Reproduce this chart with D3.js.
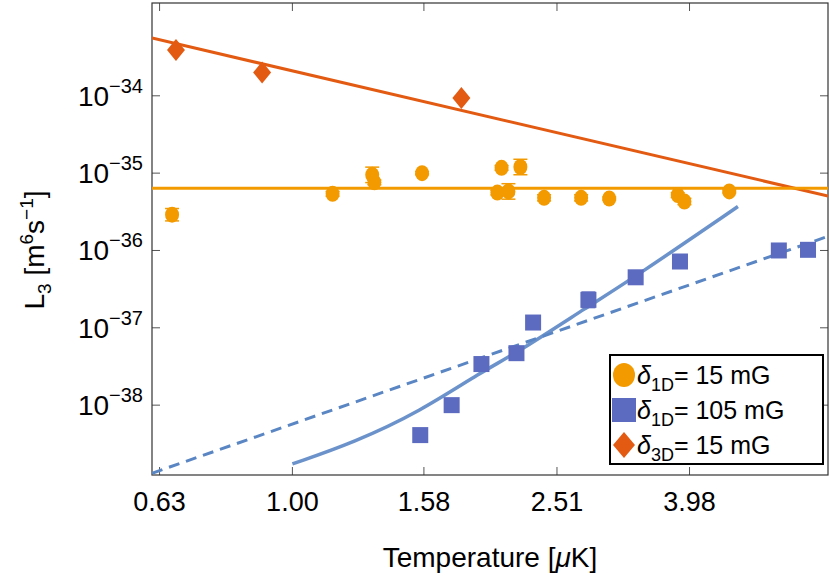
<!DOCTYPE html><html><head><meta charset="utf-8">
<script src="https://cdn.jsdelivr.net/npm/d3@7"></script>
<style>body{margin:0;background:#fff}text{font-family:"Liberation Sans",Arial,sans-serif}</style></head><body>
<svg id="c" width="830" height="580"></svg>
<script>
const xTicks=[0.63,1.00,1.58,2.51,3.98];
const xTickLabels=["0.63","1.00","1.58","2.51","3.98"];
const yTickExps=[-34,-35,-36,-37,-38];
// series 1: delta_1D = 15 mG (T, L3, relative log error)
const circT=[0.658,1.15,1.32,1.33,1.57,2.07,2.04,2.12,2.21,2.40,2.73,3.01,3.82,3.91,4.57];
const circL=[2.9e-36,5.4e-36,9.5e-36,7.6e-36,1.0e-35,1.17e-35,5.6e-36,5.8e-36,1.2e-35,4.8e-36,4.8e-36,4.7e-36,5.2e-36,4.3e-36,5.8e-36];
const circE=[0.08,0.03,0.1,0.03,0.02,0.03,0.03,0.1,0.1,0.04,0.04,0.02,0.03,0.04,0.02];
const circFit=6.4e-36;
// series 2: delta_1D = 105 mG
const sqT=[1.56,1.74,1.93,2.18,2.31,2.80,3.30,3.85,5.43,6.01];
const sqL=[4.1e-39,1.0e-38,3.4e-38,4.7e-38,1.17e-37,2.3e-37,4.5e-37,7.2e-37,1.0e-36,1.02e-36];
const sqE=[0,0,0,0,0,0.1,0,0,0,0];
const sqCurveT=[1.00,1.24,1.56,1.93,2.18,2.80,3.30,4.71];
const sqCurveL=[1.74e-39,3.3e-39,8.3e-39,2.7e-38,4.7e-38,1.9e-37,4.6e-37,3.7e-36];
const sqDashA=5.7e-39, sqDashN=3;
// series 3: delta_3D = 15 mG
const diaT=[0.667,0.90,1.80];
const diaL=[3.9e-34,2.0e-34,9.4e-35];
const diaA=2.1e-34, diaN=-2;
const legendLabels=[["δ","1D","= 15 mG"],["δ","1D","= 105 mG"],["δ","3D","= 15 mG"]];

const cOr="#f29a00",cBl="#5c6bc0",cRd="#e35b12",cLn="#5b86c4";
const svg=d3.select("#c");
const L=152,R=828,T=3,B=475;
const x=d3.scaleLog().domain([Math.pow(10,-0.2-8/662),Math.pow(10,-0.2+668/662)]).range([L,R]);
const y=d3.scaleLog().domain([Math.pow(10,-38-70/77.5),Math.pow(10,-34+93/77.5)]).range([B,T]);
const g=svg.append("g");
g.append("defs").append("clipPath").attr("id","cp").append("rect").attr("x",L).attr("y",T).attr("width",R-L).attr("height",B-T);
const tk=8;
xTicks.forEach((t,i)=>{const px=x(t);
 g.append("line").attr("x1",px).attr("x2",px).attr("y1",B).attr("y2",B-tk).attr("stroke","#555");
 g.append("line").attr("x1",px).attr("x2",px).attr("y1",T).attr("y2",T+tk).attr("stroke","#555");
 g.append("text").attr("x",px).attr("y",B+36).attr("text-anchor","middle").attr("font-size",27).text(xTickLabels[i]);});
yTickExps.forEach(e=>{const py=y(Math.pow(10,e));
 g.append("line").attr("x1",L).attr("x2",L+tk).attr("y1",py).attr("y2",py).attr("stroke","#555");
 g.append("line").attr("x1",R).attr("x2",R-tk).attr("y1",py).attr("y2",py).attr("stroke","#555");
 const t=g.append("text").attr("x",143).attr("y",py+10).attr("text-anchor","end").attr("font-size",28);
 t.append("tspan").text("10");t.append("tspan").attr("dy",-13).attr("font-size",20).text("−"+(-e));});
g.append("rect").attr("x",L).attr("y",T).attr("width",R-L).attr("height",B-T).attr("fill","none").attr("stroke","#333").attr("stroke-width",1.2);
const xt=g.append("text").attr("x",490).attr("y",567).attr("text-anchor","middle").attr("font-size",28);
xt.append("tspan").text("Temperature [");xt.append("tspan").attr("font-style","italic").text("μ");xt.append("tspan").text("K]");
const yt=g.append("text").attr("transform","translate(44,250) rotate(-90)").attr("text-anchor","middle").attr("font-size",28);
yt.append("tspan").text("L");yt.append("tspan").attr("dy",7).attr("font-size",19).text("3");
yt.append("tspan").attr("dy",-7).text(" [m");yt.append("tspan").attr("dy",-11).attr("font-size",19).text("6");
yt.append("tspan").attr("dy",11).text("s");yt.append("tspan").attr("dy",-11).attr("font-size",19).text("−1");
yt.append("tspan").attr("dy",11).text("]");
const p=g.append("g").attr("clip-path","url(#cp)");
const dom=x.domain();
const pw=(a,n)=>[dom[0],dom[1]].map(t=>[x(t),y(a*Math.pow(t,n))]);
p.append("path").attr("d",d3.line()(pw(diaA,diaN))).attr("stroke",cRd).attr("stroke-width",3).attr("fill","none");
p.append("path").attr("d",d3.line()(pw(circFit,0))).attr("stroke",cOr).attr("stroke-width",3).attr("fill","none");
p.append("path").attr("d",d3.line()(pw(sqDashA,sqDashN))).attr("stroke",cLn).attr("stroke-width",3).attr("stroke-dasharray","11,7").attr("fill","none");
p.append("path").attr("d",d3.line().curve(d3.curveBasis)(sqCurveT.map((t,i)=>[x(t),y(sqCurveL[i])]))).attr("stroke",cLn).attr("stroke-width",3.5).attr("stroke-opacity",0.9).attr("fill","none");
function eb(T_,L_,E,col){T_.forEach((t,i)=>{if(!E[i])return;const px=x(t),y1=y(L_[i]*Math.pow(10,E[i])),y2=y(L_[i]/Math.pow(10,E[i]));
 p.append("line").attr("x1",px).attr("x2",px).attr("y1",y1).attr("y2",y2).attr("stroke",col).attr("stroke-width",1.5);
 [y1,y2].forEach(yy=>p.append("line").attr("x1",px-7).attr("x2",px+7).attr("y1",yy).attr("y2",yy).attr("stroke",col).attr("stroke-width",1.5));});}
eb(circT,circL,circE,cOr);eb(sqT,sqL,sqE,cBl);
circT.forEach((t,i)=>p.append("ellipse").attr("cx",x(t)).attr("cy",y(circL[i])).attr("rx",7).attr("ry",8).attr("fill",cOr));
sqT.forEach((t,i)=>p.append("rect").attr("x",x(t)-8).attr("y",y(sqL[i])-8).attr("width",16).attr("height",16).attr("fill",cBl));
diaT.forEach((t,i)=>p.append("path").attr("transform",`translate(${x(t)},${y(diaL[i])})`).attr("d","M0,-11L9,0L0,11L-9,0Z").attr("fill",cRd));
const lg=g.append("g");
lg.append("rect").attr("x",610).attr("y",355).attr("width",213).attr("height",109).attr("fill","#fff").attr("stroke","#000").attr("stroke-width",2);
const cols=[cOr,cBl,cRd];
legendLabels.forEach((l,i)=>{const yy=375+i*35;
 if(i==0)lg.append("ellipse").attr("cx",624).attr("cy",yy).attr("rx",11).attr("ry",12).attr("fill",cols[i]);
 if(i==1)lg.append("rect").attr("x",612).attr("y",yy-12).attr("width",24).attr("height",24).attr("fill",cols[i]);
 if(i==2)lg.append("path").attr("transform",`translate(624,${yy})`).attr("d","M0,-13L11,0L0,13L-11,0Z").attr("fill",cols[i]);
 const t=lg.append("text").attr("x",637).attr("y",yy+9).attr("font-size",25);
 t.append("tspan").attr("font-style","italic").text(l[0]);t.append("tspan").attr("dy",7).attr("font-size",18).text(l[1]);
 t.append("tspan").attr("dy",-7).text(l[2]);});
</script></body></html>
